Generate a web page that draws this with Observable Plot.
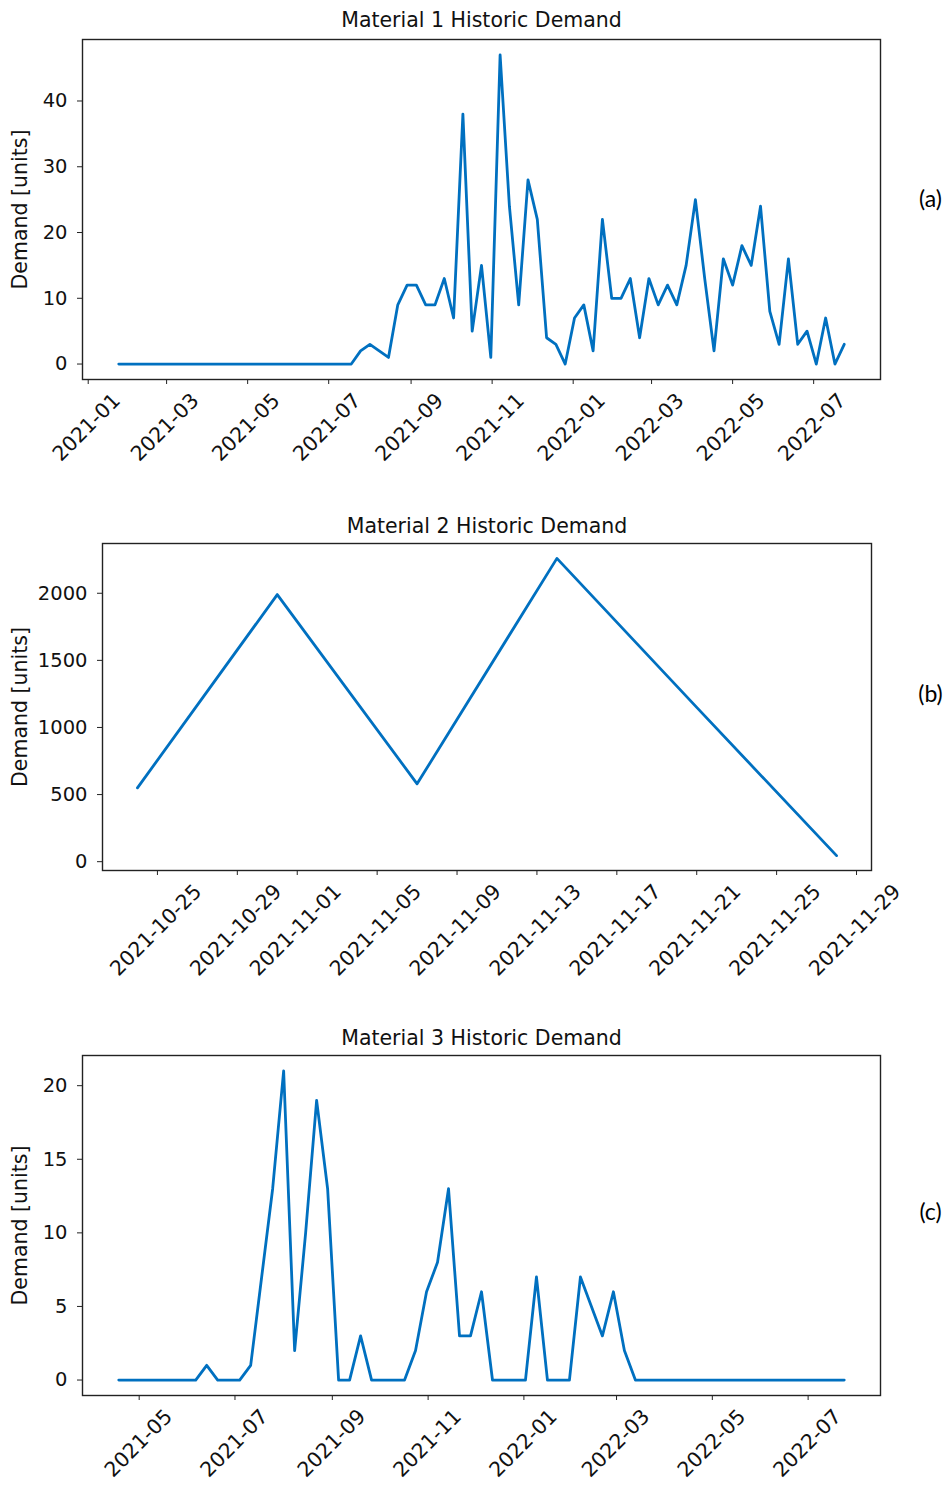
<!DOCTYPE html>
<html>
<head>
<meta charset="utf-8">
<script src="https://cdn.jsdelivr.net/npm/d3@7"></script>
<script src="https://cdn.jsdelivr.net/npm/@observablehq/plot@0.6"></script>
<style>
  body { margin: 0; background: #fff; }
  #page { position: relative; width: 951px; height: 1488px; background: #fff; overflow: hidden; }
  .panel { position: absolute; left: 0; }
</style>
</head>
<body>
<div id="page"></div>
<script>
// ---------- data ----------
const titles = ["Material 1 Historic Demand", "Material 2 Historic Demand", "Material 3 Historic Demand"];
const panelLetters = ["(a)", "(b)", "(c)"];
const yLabel = "Demand [units]";

// Material 1: weekly (Sundays) from 2021-01-24
const m1Start = "2021-01-24";
const m1Values = [
  0,0,0,0,0,0,0,0,0,0,0,0,0,0,0,0,0,0,0,0,0,0,0,0,0,0,
  2,3,2,1,9,12,12,9,9,13,7,38,5,15,
  1,47,24,9,28,22,4,3,0,7,9,2,22,10,10,13,4,13,9,12,9,15,25,13,2,
  16,12,18,15,24,8,3,16,3,5,0,7,0,3
];
const m1XTicks = ["2021-01-01","2021-03-01","2021-05-01","2021-07-01","2021-09-01","2021-11-01",
                  "2022-01-01","2022-03-01","2022-05-01","2022-07-01"];
const m1YTicks = [0, 10, 20, 30, 40];

// Material 2
const m2Dates = ["2021-10-24","2021-10-31","2021-11-07","2021-11-14","2021-11-21","2021-11-28"];
const m2Values = [550, 1990, 580, 2260, 1150, 45];
const m2XTicks = ["2021-10-25","2021-10-29","2021-11-01","2021-11-05","2021-11-09","2021-11-13",
                  "2021-11-17","2021-11-21","2021-11-25","2021-11-29"];
const m2YTicks = [0, 500, 1000, 1500, 2000];

// Material 3: weekly (Sundays) from 2021-04-18
const m3Start = "2021-04-18";
const m3Values = [
  0,0,0,0,0,0,0,0,1,0,0,0,1,7,13,21,2,10,19,13,0,0,3,0,0,0,0,
  2,6,8,13,3,3,6,0,0,0,0,7,0,0,0,7,5,3,6,2,
  0,0,0,0,0,0,0,0,0,0,0,0,0,0,0,0,0,0,0,0
];
const m3XTicks = ["2021-05-01","2021-07-01","2021-09-01","2021-11-01","2022-01-01","2022-03-01",
                  "2022-05-01","2022-07-01"];
const m3YTicks = [0, 5, 10, 15, 20];

// ---------- helpers ----------
const weekly = (start, n) => d3.range(n).map(i => d3.utcDay.offset(new Date(start), 7 * i));
const toRows = (dates, values) => dates.map((d, i) => ({date: d, value: values[i]}));
const padded = (lo, hi) => { const m = (hi - lo) * 0.05; return [lo - m, hi + m]; };

const LINE = "#0070C0";
const FONT = "DejaVu Sans, sans-serif";

function panel({rows, xTicks, fmt, yTicks, title, letter, top, height, mt, mb, ml, mr, ylDx, letterDy, titleDy, labDx}) {
  const xExt = d3.extent(rows, d => d.date);
  const xPad = (xExt[1] - xExt[0]) * 0.05;
  const yExt = d3.extent(rows, d => d.value);
  const ticks = xTicks.map(s => new Date(s));
  const chart = Plot.plot({
    width: 951,
    height,
    marginTop: mt, marginBottom: mb, marginLeft: ml, marginRight: mr,
    style: {fontFamily: FONT, background: "#fff", color: "#000", overflow: "visible"},
    x: {type: "utc", domain: [new Date(+xExt[0] - xPad), new Date(+xExt[1] + xPad)]},
    y: {domain: padded(yExt[0], yExt[1])},
    marks: [
      Plot.axisY({ticks: yTicks, tickSize: 5, tickPadding: 10, fontSize: 19.5, label: null, stroke: "#222",
        tickFormat: d3.format("d"), fill: "#111"}),
      Plot.axisX({ticks, tickSize: 5, tickFormat: () => "", label: null, stroke: "#222"}),
      Plot.text(ticks, {x: d => d, frameAnchor: "bottom", text: d => d3.utcFormat(fmt)(d),
        rotate: -45, textAnchor: "end", lineAnchor: "top", dx: labDx, dy: 12, fontSize: 20.5, fill: "#111"}),
      Plot.line(rows, {x: "date", y: "value", stroke: LINE, strokeWidth: 2.8, strokeLinejoin: "round", strokeLinecap: "round"}),
      Plot.frame({stroke: "#222", strokeWidth: 1.4}),
      Plot.text([title], {frameAnchor: "top", dy: titleDy, lineAnchor: "bottom", fontSize: 20.5, fill: "#111"}),
      Plot.text([yLabel], {frameAnchor: "left", rotate: -90, dx: ylDx, textAnchor: "middle", lineAnchor: "middle", fontSize: 20.5, fill: "#111"}),
      Plot.text([letter], {frameAnchor: "right", dx: 50 + (mr - 71), dy: letterDy, textAnchor: "middle", lineAnchor: "middle",
        fontSize: 23, fontFamily: "Lato, 'Open Sans', sans-serif", fill: "#000"})
    ]
  });
  chart.classList.add("panel");
  chart.style.top = top + "px";
  document.getElementById("page").appendChild(chart);
}

panel({rows: toRows(weekly(m1Start, m1Values.length), m1Values), xTicks: m1XTicks, fmt: "%Y-%m", yTicks: m1YTicks,
  title: titles[0], letter: panelLetters[0], top: 0, height: 480, mt: 39, mb: 101, ml: 82, mr: 71, ylDx: -62, letterDy: -10,
  titleDy: -13, labDx: 23});

panel({rows: toRows(m2Dates.map(s => new Date(s)), m2Values), xTicks: m2XTicks, fmt: "%Y-%m-%d", yTicks: m2YTicks,
  title: titles[1], letter: panelLetters[1], top: 495, height: 500, mt: 48, mb: 125, ml: 102, mr: 80, ylDx: -82, letterDy: -12,
  titleDy: -11, labDx: 35});

panel({rows: toRows(weekly(m3Start, m3Values.length), m3Values), xTicks: m3XTicks, fmt: "%Y-%m", yTicks: m3YTicks,
  title: titles[2], letter: panelLetters[2], top: 1010, height: 478, mt: 45, mb: 93, ml: 82, mr: 71, ylDx: -62, letterDy: -13,
  titleDy: -11, labDx: 24});
</script>
</body>
</html>
